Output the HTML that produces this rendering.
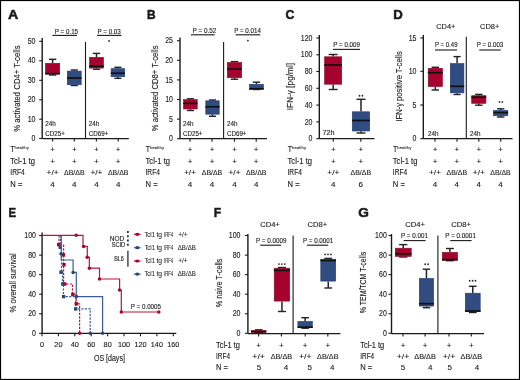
<!DOCTYPE html>
<html><head><meta charset="utf-8"><style>
html,body{margin:0;padding:0;background:#fff;}
svg{display:block;font-family:"Liberation Sans",sans-serif;will-change:transform;}
text{stroke:#1a1a1a;stroke-width:0.12px;}
</style></head><body>
<svg width="520" height="380" viewBox="0 0 520 380">
<rect x="0" y="0" width="520" height="380" fill="#fff"/>
<text x="8.0" y="19.2" font-size="13.2" text-anchor="start" fill="#1a1a1a" font-weight="bold" textLength="10.3" lengthAdjust="spacingAndGlyphs" style="stroke:#1a1a1a;stroke-width:0.55px;stroke-linejoin:round">A</text>
<line x1="42.2" y1="38" x2="42.2" y2="138.5" stroke="#1a1a1a" stroke-width="1.4"/>
<line x1="39.2" y1="41.3" x2="42.2" y2="41.3" stroke="#1a1a1a" stroke-width="1.1"/>
<text x="35.5" y="43.9" font-size="8.4" text-anchor="end" fill="#1a1a1a" textLength="7.8" lengthAdjust="spacingAndGlyphs">50</text>
<line x1="39.2" y1="60.8" x2="42.2" y2="60.8" stroke="#1a1a1a" stroke-width="1.1"/>
<text x="35.5" y="63.4" font-size="8.4" text-anchor="end" fill="#1a1a1a" textLength="7.8" lengthAdjust="spacingAndGlyphs">40</text>
<line x1="39.2" y1="80.3" x2="42.2" y2="80.3" stroke="#1a1a1a" stroke-width="1.1"/>
<text x="35.5" y="82.89999999999999" font-size="8.4" text-anchor="end" fill="#1a1a1a" textLength="7.8" lengthAdjust="spacingAndGlyphs">30</text>
<line x1="39.2" y1="99.8" x2="42.2" y2="99.8" stroke="#1a1a1a" stroke-width="1.1"/>
<text x="35.5" y="102.39999999999999" font-size="8.4" text-anchor="end" fill="#1a1a1a" textLength="7.8" lengthAdjust="spacingAndGlyphs">20</text>
<line x1="39.2" y1="119.2" x2="42.2" y2="119.2" stroke="#1a1a1a" stroke-width="1.1"/>
<text x="35.5" y="121.8" font-size="8.4" text-anchor="end" fill="#1a1a1a" textLength="7.8" lengthAdjust="spacingAndGlyphs">10</text>
<line x1="39.2" y1="138.5" x2="42.2" y2="138.5" stroke="#1a1a1a" stroke-width="1.1"/>
<text x="35.5" y="141.1" font-size="8.4" text-anchor="end" fill="#1a1a1a" textLength="3.9" lengthAdjust="spacingAndGlyphs">0</text>
<line x1="42.2" y1="138.6" x2="128.8" y2="138.6" stroke="#1a1a1a" stroke-width="1.3"/>
<line x1="52.6" y1="138.6" x2="52.6" y2="141.6" stroke="#1a1a1a" stroke-width="1.1"/>
<line x1="74.3" y1="138.6" x2="74.3" y2="141.6" stroke="#1a1a1a" stroke-width="1.1"/>
<line x1="96.4" y1="138.6" x2="96.4" y2="141.6" stroke="#1a1a1a" stroke-width="1.1"/>
<line x1="118.2" y1="138.6" x2="118.2" y2="141.6" stroke="#1a1a1a" stroke-width="1.1"/>
<line x1="85.5" y1="42" x2="85.5" y2="138.5" stroke="#1a1a1a" stroke-width="1.1"/>
<text x="54.8" y="33.5" font-size="6.9" text-anchor="start" fill="#1a1a1a" textLength="23.299999999999997" lengthAdjust="spacingAndGlyphs">P = 0.15</text>
<line x1="52.3" y1="35.4" x2="76.9" y2="35.4" stroke="#1a1a1a" stroke-width="1.1"/>
<text x="97.5" y="33.6" font-size="6.9" text-anchor="start" fill="#1a1a1a" textLength="23.299999999999997" lengthAdjust="spacingAndGlyphs">P = 0.03</text>
<line x1="97" y1="35.4" x2="121.5" y2="35.4" stroke="#1a1a1a" stroke-width="1.1"/>
<ellipse cx="109.00" cy="41" rx="0.85" ry="0.95" fill="#222"/>
<line x1="52.6" y1="59.3" x2="52.6" y2="63" stroke="#222" stroke-width="1.5"/>
<line x1="52.6" y1="74.2" x2="52.6" y2="75" stroke="#222" stroke-width="1.5"/>
<line x1="48.900000000000006" y1="59.3" x2="56.3" y2="59.3" stroke="#222" stroke-width="1.4"/>
<line x1="48.900000000000006" y1="75" x2="56.3" y2="75" stroke="#222" stroke-width="1.4"/>
<rect x="45.5" y="63.3" width="14.199999999999998" height="10.600000000000003" fill="#a5032e" stroke="#8a0626" stroke-width="0.6"/>
<line x1="45.2" y1="73.7" x2="60" y2="73.7" stroke="#111" stroke-width="1.7"/>
<line x1="74.25" y1="70" x2="74.25" y2="70.8" stroke="#222" stroke-width="1.5"/>
<line x1="74.25" y1="85" x2="74.25" y2="85.5" stroke="#222" stroke-width="1.5"/>
<line x1="70.625" y1="70" x2="77.875" y2="70" stroke="#222" stroke-width="1.4"/>
<line x1="70.625" y1="85.5" x2="77.875" y2="85.5" stroke="#222" stroke-width="1.4"/>
<rect x="67.3" y="71.1" width="13.9" height="13.600000000000003" fill="#304c80" stroke="#1f3b74" stroke-width="0.6"/>
<line x1="67" y1="78" x2="81.5" y2="78" stroke="#111" stroke-width="1.7"/>
<line x1="96.5" y1="53.4" x2="96.5" y2="57" stroke="#222" stroke-width="1.5"/>
<line x1="96.5" y1="68.4" x2="96.5" y2="69.2" stroke="#222" stroke-width="1.5"/>
<line x1="92.85" y1="53.4" x2="100.15" y2="53.4" stroke="#222" stroke-width="1.4"/>
<line x1="92.85" y1="69.2" x2="100.15" y2="69.2" stroke="#222" stroke-width="1.4"/>
<rect x="89.5" y="57.3" width="13.999999999999995" height="10.800000000000006" fill="#a5032e" stroke="#8a0626" stroke-width="0.6"/>
<line x1="89.2" y1="66.2" x2="103.8" y2="66.2" stroke="#111" stroke-width="1.7"/>
<line x1="117.9" y1="67.3" x2="117.9" y2="68.4" stroke="#222" stroke-width="1.5"/>
<line x1="117.9" y1="77" x2="117.9" y2="78.3" stroke="#222" stroke-width="1.5"/>
<line x1="114.35000000000001" y1="67.3" x2="121.45" y2="67.3" stroke="#222" stroke-width="1.4"/>
<line x1="114.35000000000001" y1="78.3" x2="121.45" y2="78.3" stroke="#222" stroke-width="1.4"/>
<rect x="111.1" y="68.7" width="13.600000000000003" height="7.999999999999995" fill="#304c80" stroke="#1f3b74" stroke-width="0.6"/>
<line x1="110.8" y1="73.2" x2="125" y2="73.2" stroke="#111" stroke-width="1.7"/>
<text x="45.3" y="126.1" font-size="6.5" text-anchor="start" fill="#1a1a1a" textLength="10.5" lengthAdjust="spacingAndGlyphs">24h</text>
<text x="45.3" y="135.8" font-size="6.5" text-anchor="start" fill="#1a1a1a" textLength="19.5" lengthAdjust="spacingAndGlyphs">CD25+</text>
<text x="88.8" y="126.1" font-size="6.5" text-anchor="start" fill="#1a1a1a" textLength="10.5" lengthAdjust="spacingAndGlyphs">24h</text>
<text x="88.8" y="135.8" font-size="6.5" text-anchor="start" fill="#1a1a1a" textLength="19.5" lengthAdjust="spacingAndGlyphs">CD69+</text>
<text transform="translate(16.15,88.6) rotate(-90)" x="0" y="0" font-size="9.6" text-anchor="middle" dominant-baseline="central" fill="#1a1a1a" textLength="86.3" lengthAdjust="spacingAndGlyphs">% activated CD4+ T-cells</text>
<text x="10.600000000000001" y="152.20000000000002" font-size="8.6" text-anchor="start" fill="#1a1a1a" textLength="4.3" lengthAdjust="spacingAndGlyphs">T</text>
<text x="14.600000000000001" y="148.5" font-size="4.4" text-anchor="start" fill="#1a1a1a" textLength="14.4" lengthAdjust="spacingAndGlyphs" style="stroke-width:0.05px">healthy</text>
<text x="52.6" y="152.3" font-size="8" text-anchor="middle" fill="#1a1a1a">+</text>
<text x="74.3" y="152.3" font-size="8" text-anchor="middle" fill="#1a1a1a">+</text>
<text x="96.4" y="152.3" font-size="8" text-anchor="middle" fill="#1a1a1a">+</text>
<text x="118.2" y="152.3" font-size="8" text-anchor="middle" fill="#1a1a1a">+</text>
<text x="10.3" y="163.9" font-size="8.6" text-anchor="start" fill="#1a1a1a" textLength="24.6" lengthAdjust="spacingAndGlyphs">Tcl-1 tg</text>
<text x="10.3" y="175.3" font-size="8.6" text-anchor="start" fill="#1a1a1a" textLength="14.4" lengthAdjust="spacingAndGlyphs">IRF4</text>
<text x="10.3" y="186.5" font-size="8.6" text-anchor="start" fill="#1a1a1a" textLength="12.1" lengthAdjust="spacingAndGlyphs">N =</text>
<text x="52.6" y="163.8" font-size="8" text-anchor="middle" fill="#1a1a1a">+</text>
<text x="74.3" y="163.8" font-size="8" text-anchor="middle" fill="#1a1a1a">+</text>
<text x="96.4" y="163.8" font-size="8" text-anchor="middle" fill="#1a1a1a">+</text>
<text x="118.2" y="163.8" font-size="8" text-anchor="middle" fill="#1a1a1a">+</text>
<text x="52.6" y="175.3" font-size="8" text-anchor="middle" fill="#1a1a1a" textLength="12" lengthAdjust="spacingAndGlyphs">+/+</text>
<text x="74.3" y="175.3" font-size="8" text-anchor="middle" fill="#1a1a1a" textLength="20.5" lengthAdjust="spacingAndGlyphs">ΔB/ΔB</text>
<text x="96.4" y="175.3" font-size="8" text-anchor="middle" fill="#1a1a1a" textLength="12" lengthAdjust="spacingAndGlyphs">+/+</text>
<text x="118.2" y="175.3" font-size="8" text-anchor="middle" fill="#1a1a1a" textLength="20.5" lengthAdjust="spacingAndGlyphs">ΔB/ΔB</text>
<text x="52.6" y="186.5" font-size="8" text-anchor="middle" fill="#1a1a1a">4</text>
<text x="74.3" y="186.5" font-size="8" text-anchor="middle" fill="#1a1a1a">4</text>
<text x="96.4" y="186.5" font-size="8" text-anchor="middle" fill="#1a1a1a">4</text>
<text x="118.2" y="186.5" font-size="8" text-anchor="middle" fill="#1a1a1a">4</text>
<text x="147" y="19.2" font-size="13.2" text-anchor="start" fill="#1a1a1a" font-weight="bold" textLength="8.6" lengthAdjust="spacingAndGlyphs" style="stroke:#1a1a1a;stroke-width:0.55px;stroke-linejoin:round">B</text>
<line x1="180" y1="37.5" x2="180" y2="138.7" stroke="#1a1a1a" stroke-width="1.4"/>
<line x1="177" y1="40.7" x2="180" y2="40.7" stroke="#1a1a1a" stroke-width="1.1"/>
<text x="173" y="43.300000000000004" font-size="8.4" text-anchor="end" fill="#1a1a1a" textLength="7.8" lengthAdjust="spacingAndGlyphs">25</text>
<line x1="177" y1="60.3" x2="180" y2="60.3" stroke="#1a1a1a" stroke-width="1.1"/>
<text x="173" y="62.9" font-size="8.4" text-anchor="end" fill="#1a1a1a" textLength="7.8" lengthAdjust="spacingAndGlyphs">20</text>
<line x1="177" y1="79.9" x2="180" y2="79.9" stroke="#1a1a1a" stroke-width="1.1"/>
<text x="173" y="82.5" font-size="8.4" text-anchor="end" fill="#1a1a1a" textLength="7.8" lengthAdjust="spacingAndGlyphs">15</text>
<line x1="177" y1="99.5" x2="180" y2="99.5" stroke="#1a1a1a" stroke-width="1.1"/>
<text x="173" y="102.1" font-size="8.4" text-anchor="end" fill="#1a1a1a" textLength="7.8" lengthAdjust="spacingAndGlyphs">10</text>
<line x1="177" y1="119.1" x2="180" y2="119.1" stroke="#1a1a1a" stroke-width="1.1"/>
<text x="173" y="121.69999999999999" font-size="8.4" text-anchor="end" fill="#1a1a1a" textLength="3.9" lengthAdjust="spacingAndGlyphs">5</text>
<line x1="177" y1="138.7" x2="180" y2="138.7" stroke="#1a1a1a" stroke-width="1.1"/>
<text x="173" y="141.29999999999998" font-size="8.4" text-anchor="end" fill="#1a1a1a" textLength="3.9" lengthAdjust="spacingAndGlyphs">0</text>
<line x1="180" y1="138.7" x2="267" y2="138.7" stroke="#1a1a1a" stroke-width="1.3"/>
<line x1="190" y1="138.7" x2="190" y2="141.7" stroke="#1a1a1a" stroke-width="1.1"/>
<line x1="212" y1="138.7" x2="212" y2="141.7" stroke="#1a1a1a" stroke-width="1.1"/>
<line x1="234.5" y1="138.7" x2="234.5" y2="141.7" stroke="#1a1a1a" stroke-width="1.1"/>
<line x1="256.2" y1="138.7" x2="256.2" y2="141.7" stroke="#1a1a1a" stroke-width="1.1"/>
<line x1="223.6" y1="42" x2="223.6" y2="138.7" stroke="#1a1a1a" stroke-width="1.1"/>
<text x="192.5" y="33" font-size="6.9" text-anchor="start" fill="#1a1a1a" textLength="23.80000000000001" lengthAdjust="spacingAndGlyphs">P = 0.52</text>
<line x1="190.9" y1="34.8" x2="214.7" y2="34.8" stroke="#1a1a1a" stroke-width="1.1"/>
<text x="234.2" y="33" font-size="6.9" text-anchor="start" fill="#1a1a1a" textLength="26.69999999999999" lengthAdjust="spacingAndGlyphs">P = 0.014</text>
<line x1="235.6" y1="34.8" x2="260.2" y2="34.8" stroke="#1a1a1a" stroke-width="1.1"/>
<ellipse cx="247.90" cy="40.6" rx="0.85" ry="0.95" fill="#222"/>
<line x1="190.4" y1="98.8" x2="190.4" y2="99.3" stroke="#222" stroke-width="1.5"/>
<line x1="190.4" y1="109.3" x2="190.4" y2="110.5" stroke="#222" stroke-width="1.5"/>
<line x1="186.85000000000002" y1="98.8" x2="193.95" y2="98.8" stroke="#222" stroke-width="1.4"/>
<line x1="186.85000000000002" y1="110.5" x2="193.95" y2="110.5" stroke="#222" stroke-width="1.4"/>
<rect x="183.60000000000002" y="99.6" width="13.599999999999989" height="9.4" fill="#a5032e" stroke="#8a0626" stroke-width="0.6"/>
<line x1="183.3" y1="103.3" x2="197.5" y2="103.3" stroke="#111" stroke-width="1.7"/>
<line x1="212.5" y1="100" x2="212.5" y2="100.5" stroke="#222" stroke-width="1.5"/>
<line x1="212.5" y1="114.5" x2="212.5" y2="116.3" stroke="#222" stroke-width="1.5"/>
<line x1="209.0" y1="100" x2="216.0" y2="100" stroke="#222" stroke-width="1.4"/>
<line x1="209.0" y1="116.3" x2="216.0" y2="116.3" stroke="#222" stroke-width="1.4"/>
<rect x="205.8" y="100.8" width="13.4" height="13.4" fill="#304c80" stroke="#1f3b74" stroke-width="0.6"/>
<line x1="205.5" y1="106.8" x2="219.5" y2="106.8" stroke="#111" stroke-width="1.7"/>
<line x1="234.5" y1="61.6" x2="234.5" y2="62.2" stroke="#222" stroke-width="1.5"/>
<line x1="234.5" y1="78" x2="234.5" y2="79.2" stroke="#222" stroke-width="1.5"/>
<line x1="230.75" y1="61.6" x2="238.25" y2="61.6" stroke="#222" stroke-width="1.4"/>
<line x1="230.75" y1="79.2" x2="238.25" y2="79.2" stroke="#222" stroke-width="1.4"/>
<rect x="227.3" y="62.5" width="14.4" height="15.199999999999998" fill="#a5032e" stroke="#8a0626" stroke-width="0.6"/>
<line x1="227" y1="69.1" x2="242" y2="69.1" stroke="#111" stroke-width="1.7"/>
<line x1="256.45" y1="82.2" x2="256.45" y2="84" stroke="#222" stroke-width="1.5"/>
<line x1="256.45" y1="89.5" x2="256.45" y2="89.5" stroke="#222" stroke-width="1.5"/>
<line x1="252.825" y1="82.2" x2="260.075" y2="82.2" stroke="#222" stroke-width="1.4"/>
<line x1="252.825" y1="89.5" x2="260.075" y2="89.5" stroke="#222" stroke-width="1.4"/>
<rect x="249.5" y="84.3" width="13.9" height="4.9" fill="#304c80" stroke="#1f3b74" stroke-width="0.6"/>
<line x1="249.2" y1="88.8" x2="263.7" y2="88.8" stroke="#111" stroke-width="1.7"/>
<text x="183" y="126.1" font-size="6.5" text-anchor="start" fill="#1a1a1a" textLength="10.5" lengthAdjust="spacingAndGlyphs">24h</text>
<text x="183" y="135.8" font-size="6.5" text-anchor="start" fill="#1a1a1a" textLength="19.5" lengthAdjust="spacingAndGlyphs">CD25+</text>
<text x="227" y="126.1" font-size="6.5" text-anchor="start" fill="#1a1a1a" textLength="10.5" lengthAdjust="spacingAndGlyphs">24h</text>
<text x="227" y="135.8" font-size="6.5" text-anchor="start" fill="#1a1a1a" textLength="19.5" lengthAdjust="spacingAndGlyphs">CD69+</text>
<text transform="translate(154.45,88.4) rotate(-90)" x="0" y="0" font-size="9.6" text-anchor="middle" dominant-baseline="central" fill="#1a1a1a" textLength="85.8" lengthAdjust="spacingAndGlyphs">% activated CD8+ T-cells</text>
<text x="145.8" y="152.20000000000002" font-size="8.6" text-anchor="start" fill="#1a1a1a" textLength="4.3" lengthAdjust="spacingAndGlyphs">T</text>
<text x="149.8" y="148.5" font-size="4.4" text-anchor="start" fill="#1a1a1a" textLength="14.4" lengthAdjust="spacingAndGlyphs" style="stroke-width:0.05px">healthy</text>
<text x="190" y="152.3" font-size="8" text-anchor="middle" fill="#1a1a1a">+</text>
<text x="212" y="152.3" font-size="8" text-anchor="middle" fill="#1a1a1a">+</text>
<text x="234.5" y="152.3" font-size="8" text-anchor="middle" fill="#1a1a1a">+</text>
<text x="256.2" y="152.3" font-size="8" text-anchor="middle" fill="#1a1a1a">+</text>
<text x="145.5" y="163.9" font-size="8.6" text-anchor="start" fill="#1a1a1a" textLength="24.6" lengthAdjust="spacingAndGlyphs">Tcl-1 tg</text>
<text x="145.5" y="175.3" font-size="8.6" text-anchor="start" fill="#1a1a1a" textLength="14.4" lengthAdjust="spacingAndGlyphs">IRF4</text>
<text x="145.5" y="186.5" font-size="8.6" text-anchor="start" fill="#1a1a1a" textLength="12.1" lengthAdjust="spacingAndGlyphs">N =</text>
<text x="190" y="163.8" font-size="8" text-anchor="middle" fill="#1a1a1a">+</text>
<text x="212" y="163.8" font-size="8" text-anchor="middle" fill="#1a1a1a">+</text>
<text x="234.5" y="163.8" font-size="8" text-anchor="middle" fill="#1a1a1a">+</text>
<text x="256.2" y="163.8" font-size="8" text-anchor="middle" fill="#1a1a1a">+</text>
<text x="190" y="175.3" font-size="8" text-anchor="middle" fill="#1a1a1a" textLength="12" lengthAdjust="spacingAndGlyphs">+/+</text>
<text x="212" y="175.3" font-size="8" text-anchor="middle" fill="#1a1a1a" textLength="20.5" lengthAdjust="spacingAndGlyphs">ΔB/ΔB</text>
<text x="234.5" y="175.3" font-size="8" text-anchor="middle" fill="#1a1a1a" textLength="12" lengthAdjust="spacingAndGlyphs">+/+</text>
<text x="256.2" y="175.3" font-size="8" text-anchor="middle" fill="#1a1a1a" textLength="20.5" lengthAdjust="spacingAndGlyphs">ΔB/ΔB</text>
<text x="190" y="186.5" font-size="8" text-anchor="middle" fill="#1a1a1a">4</text>
<text x="212" y="186.5" font-size="8" text-anchor="middle" fill="#1a1a1a">4</text>
<text x="234.5" y="186.5" font-size="8" text-anchor="middle" fill="#1a1a1a">4</text>
<text x="256.2" y="186.5" font-size="8" text-anchor="middle" fill="#1a1a1a">4</text>
<text x="285.4" y="19.2" font-size="13.2" text-anchor="start" fill="#1a1a1a" font-weight="bold" textLength="8.9" lengthAdjust="spacingAndGlyphs" style="stroke:#1a1a1a;stroke-width:0.55px;stroke-linejoin:round">C</text>
<line x1="319.3" y1="35" x2="319.3" y2="138.7" stroke="#1a1a1a" stroke-width="1.4"/>
<line x1="316.3" y1="38" x2="319.3" y2="38" stroke="#1a1a1a" stroke-width="1.1"/>
<text x="312.5" y="40.6" font-size="8.4" text-anchor="end" fill="#1a1a1a" textLength="11.7" lengthAdjust="spacingAndGlyphs">120</text>
<line x1="316.3" y1="54.8" x2="319.3" y2="54.8" stroke="#1a1a1a" stroke-width="1.1"/>
<text x="312.5" y="57.4" font-size="8.4" text-anchor="end" fill="#1a1a1a" textLength="11.7" lengthAdjust="spacingAndGlyphs">100</text>
<line x1="316.3" y1="71.5" x2="319.3" y2="71.5" stroke="#1a1a1a" stroke-width="1.1"/>
<text x="312.5" y="74.1" font-size="8.4" text-anchor="end" fill="#1a1a1a" textLength="7.8" lengthAdjust="spacingAndGlyphs">80</text>
<line x1="316.3" y1="88.3" x2="319.3" y2="88.3" stroke="#1a1a1a" stroke-width="1.1"/>
<text x="312.5" y="90.89999999999999" font-size="8.4" text-anchor="end" fill="#1a1a1a" textLength="7.8" lengthAdjust="spacingAndGlyphs">60</text>
<line x1="316.3" y1="105.1" x2="319.3" y2="105.1" stroke="#1a1a1a" stroke-width="1.1"/>
<text x="312.5" y="107.69999999999999" font-size="8.4" text-anchor="end" fill="#1a1a1a" textLength="7.8" lengthAdjust="spacingAndGlyphs">40</text>
<line x1="316.3" y1="121.9" x2="319.3" y2="121.9" stroke="#1a1a1a" stroke-width="1.1"/>
<text x="312.5" y="124.5" font-size="8.4" text-anchor="end" fill="#1a1a1a" textLength="7.8" lengthAdjust="spacingAndGlyphs">20</text>
<line x1="316.3" y1="138.7" x2="319.3" y2="138.7" stroke="#1a1a1a" stroke-width="1.1"/>
<text x="312.5" y="141.29999999999998" font-size="8.4" text-anchor="end" fill="#1a1a1a" textLength="3.9" lengthAdjust="spacingAndGlyphs">0</text>
<line x1="319.3" y1="138.7" x2="374.5" y2="138.7" stroke="#1a1a1a" stroke-width="1.3"/>
<line x1="333.3" y1="138.7" x2="333.3" y2="141.7" stroke="#1a1a1a" stroke-width="1.1"/>
<line x1="360.8" y1="138.7" x2="360.8" y2="141.7" stroke="#1a1a1a" stroke-width="1.1"/>
<text x="333.3" y="46.6" font-size="6.9" text-anchor="start" fill="#1a1a1a" textLength="26.69999999999999" lengthAdjust="spacingAndGlyphs">P = 0.009</text>
<line x1="333" y1="49.4" x2="360" y2="49.4" stroke="#1a1a1a" stroke-width="1.1"/>
<line x1="333.15" y1="54.5" x2="333.15" y2="56.5" stroke="#222" stroke-width="1.5"/>
<line x1="333.15" y1="84.5" x2="333.15" y2="89.5" stroke="#222" stroke-width="1.5"/>
<line x1="328.72499999999997" y1="54.5" x2="337.575" y2="54.5" stroke="#222" stroke-width="1.4"/>
<line x1="328.72499999999997" y1="89.5" x2="337.575" y2="89.5" stroke="#222" stroke-width="1.4"/>
<rect x="324.6" y="56.8" width="17.099999999999987" height="27.4" fill="#a5032e" stroke="#8a0626" stroke-width="0.6"/>
<line x1="324.3" y1="65" x2="342" y2="65" stroke="#111" stroke-width="1.7"/>
<line x1="361.0" y1="99.3" x2="361.0" y2="111.5" stroke="#222" stroke-width="1.5"/>
<line x1="361.0" y1="131.3" x2="361.0" y2="133" stroke="#222" stroke-width="1.5"/>
<line x1="356.5" y1="99.3" x2="365.5" y2="99.3" stroke="#222" stroke-width="1.4"/>
<line x1="356.5" y1="133" x2="365.5" y2="133" stroke="#222" stroke-width="1.4"/>
<rect x="352.3" y="111.8" width="17.4" height="19.20000000000001" fill="#304c80" stroke="#1f3b74" stroke-width="0.6"/>
<line x1="352" y1="120.5" x2="370" y2="120.5" stroke="#111" stroke-width="1.7"/>
<ellipse cx="359.55" cy="95.8" rx="0.85" ry="0.95" fill="#222"/>
<ellipse cx="362.45" cy="95.8" rx="0.85" ry="0.95" fill="#222"/>
<text x="322.5" y="135" font-size="6.8" text-anchor="start" fill="#1a1a1a" textLength="12" lengthAdjust="spacingAndGlyphs">72h</text>
<text transform="translate(289.8,86.6) rotate(-90)" x="0" y="0" font-size="9.2" text-anchor="middle" dominant-baseline="central" fill="#1a1a1a" textLength="47.2" lengthAdjust="spacingAndGlyphs">IFN-γ [pg/ml]</text>
<text x="287.8" y="152.20000000000002" font-size="8.6" text-anchor="start" fill="#1a1a1a" textLength="4.3" lengthAdjust="spacingAndGlyphs">T</text>
<text x="291.8" y="148.5" font-size="4.4" text-anchor="start" fill="#1a1a1a" textLength="14.4" lengthAdjust="spacingAndGlyphs" style="stroke-width:0.05px">healthy</text>
<text x="333.3" y="152.3" font-size="8" text-anchor="middle" fill="#1a1a1a">+</text>
<text x="360.8" y="152.3" font-size="8" text-anchor="middle" fill="#1a1a1a">+</text>
<text x="287.5" y="163.9" font-size="8.6" text-anchor="start" fill="#1a1a1a" textLength="24.6" lengthAdjust="spacingAndGlyphs">Tcl-1 tg</text>
<text x="287.5" y="175.3" font-size="8.6" text-anchor="start" fill="#1a1a1a" textLength="14.4" lengthAdjust="spacingAndGlyphs">IRF4</text>
<text x="287.5" y="186.5" font-size="8.6" text-anchor="start" fill="#1a1a1a" textLength="12.1" lengthAdjust="spacingAndGlyphs">N =</text>
<text x="333.3" y="163.8" font-size="8" text-anchor="middle" fill="#1a1a1a">+</text>
<text x="360.8" y="163.8" font-size="8" text-anchor="middle" fill="#1a1a1a">+</text>
<text x="333.3" y="175.3" font-size="8" text-anchor="middle" fill="#1a1a1a" textLength="12" lengthAdjust="spacingAndGlyphs">+/+</text>
<text x="360.8" y="175.3" font-size="8" text-anchor="middle" fill="#1a1a1a" textLength="20.5" lengthAdjust="spacingAndGlyphs">ΔB/ΔB</text>
<text x="333.3" y="186.5" font-size="8" text-anchor="middle" fill="#1a1a1a">4</text>
<text x="360.8" y="186.5" font-size="8" text-anchor="middle" fill="#1a1a1a">6</text>
<text x="393.3" y="19.2" font-size="13.2" text-anchor="start" fill="#1a1a1a" font-weight="bold" style="stroke:#1a1a1a;stroke-width:0.55px;stroke-linejoin:round">D</text>
<text x="436.2" y="29.3" font-size="8.1" text-anchor="start" fill="#1a1a1a" textLength="19.3" lengthAdjust="spacingAndGlyphs">CD4+</text>
<text x="480" y="29.3" font-size="8.1" text-anchor="start" fill="#1a1a1a" textLength="19.3" lengthAdjust="spacingAndGlyphs">CD8+</text>
<line x1="423.3" y1="35" x2="423.3" y2="138.7" stroke="#1a1a1a" stroke-width="1.4"/>
<line x1="420.3" y1="38" x2="423.3" y2="38" stroke="#1a1a1a" stroke-width="1.1"/>
<text x="416.5" y="40.6" font-size="8.4" text-anchor="end" fill="#1a1a1a" textLength="7.8" lengthAdjust="spacingAndGlyphs">15</text>
<line x1="420.3" y1="71.3" x2="423.3" y2="71.3" stroke="#1a1a1a" stroke-width="1.1"/>
<text x="416.5" y="73.89999999999999" font-size="8.4" text-anchor="end" fill="#1a1a1a" textLength="7.8" lengthAdjust="spacingAndGlyphs">10</text>
<line x1="420.3" y1="105" x2="423.3" y2="105" stroke="#1a1a1a" stroke-width="1.1"/>
<text x="416.5" y="107.6" font-size="8.4" text-anchor="end" fill="#1a1a1a" textLength="3.9" lengthAdjust="spacingAndGlyphs">5</text>
<line x1="420.3" y1="138.7" x2="423.3" y2="138.7" stroke="#1a1a1a" stroke-width="1.1"/>
<text x="416.5" y="141.29999999999998" font-size="8.4" text-anchor="end" fill="#1a1a1a" textLength="3.9" lengthAdjust="spacingAndGlyphs">0</text>
<line x1="423.3" y1="138.7" x2="512.5" y2="138.7" stroke="#1a1a1a" stroke-width="1.3"/>
<line x1="435" y1="138.7" x2="435" y2="141.7" stroke="#1a1a1a" stroke-width="1.1"/>
<line x1="457" y1="138.7" x2="457" y2="141.7" stroke="#1a1a1a" stroke-width="1.1"/>
<line x1="478.8" y1="138.7" x2="478.8" y2="141.7" stroke="#1a1a1a" stroke-width="1.1"/>
<line x1="500.7" y1="138.7" x2="500.7" y2="141.7" stroke="#1a1a1a" stroke-width="1.1"/>
<line x1="466.3" y1="36.8" x2="466.3" y2="138.7" stroke="#1a1a1a" stroke-width="1.1"/>
<text x="435" y="46.8" font-size="6.9" text-anchor="start" fill="#1a1a1a" textLength="22.5" lengthAdjust="spacingAndGlyphs">P = 0.49</text>
<line x1="435" y1="50" x2="457" y2="50" stroke="#1a1a1a" stroke-width="1.1"/>
<text x="476.8" y="46.8" font-size="6.9" text-anchor="start" fill="#1a1a1a" textLength="26.5" lengthAdjust="spacingAndGlyphs">P = 0.003</text>
<line x1="479.3" y1="50" x2="500.8" y2="50" stroke="#1a1a1a" stroke-width="1.1"/>
<line x1="435.29999999999995" y1="67.3" x2="435.29999999999995" y2="68" stroke="#222" stroke-width="1.5"/>
<line x1="435.29999999999995" y1="86.9" x2="435.29999999999995" y2="90" stroke="#222" stroke-width="1.5"/>
<line x1="431.59999999999997" y1="67.3" x2="438.99999999999994" y2="67.3" stroke="#222" stroke-width="1.4"/>
<line x1="431.59999999999997" y1="90" x2="438.99999999999994" y2="90" stroke="#222" stroke-width="1.4"/>
<rect x="428.2" y="68.3" width="14.200000000000012" height="18.300000000000004" fill="#a5032e" stroke="#8a0626" stroke-width="0.6"/>
<line x1="427.9" y1="72.7" x2="442.7" y2="72.7" stroke="#111" stroke-width="1.7"/>
<line x1="457.1" y1="56.6" x2="457.1" y2="63.2" stroke="#222" stroke-width="1.5"/>
<line x1="457.1" y1="93.2" x2="457.1" y2="94.5" stroke="#222" stroke-width="1.5"/>
<line x1="453.55" y1="56.6" x2="460.65000000000003" y2="56.6" stroke="#222" stroke-width="1.4"/>
<line x1="453.55" y1="94.5" x2="460.65000000000003" y2="94.5" stroke="#222" stroke-width="1.4"/>
<rect x="450.3" y="63.5" width="13.599999999999989" height="29.4" fill="#304c80" stroke="#1f3b74" stroke-width="0.6"/>
<line x1="450" y1="86.3" x2="464.2" y2="86.3" stroke="#111" stroke-width="1.7"/>
<line x1="478.79999999999995" y1="94.4" x2="478.79999999999995" y2="95.4" stroke="#222" stroke-width="1.5"/>
<line x1="478.79999999999995" y1="103.6" x2="478.79999999999995" y2="105.2" stroke="#222" stroke-width="1.5"/>
<line x1="475.09999999999997" y1="94.4" x2="482.49999999999994" y2="94.4" stroke="#222" stroke-width="1.4"/>
<line x1="475.09999999999997" y1="105.2" x2="482.49999999999994" y2="105.2" stroke="#222" stroke-width="1.4"/>
<rect x="471.7" y="95.7" width="14.200000000000012" height="7.599999999999989" fill="#a5032e" stroke="#8a0626" stroke-width="0.6"/>
<line x1="471.4" y1="97.2" x2="486.2" y2="97.2" stroke="#111" stroke-width="1.7"/>
<line x1="500.70000000000005" y1="108.8" x2="500.70000000000005" y2="110.1" stroke="#222" stroke-width="1.5"/>
<line x1="500.70000000000005" y1="116.1" x2="500.70000000000005" y2="117" stroke="#222" stroke-width="1.5"/>
<line x1="497.00000000000006" y1="108.8" x2="504.40000000000003" y2="108.8" stroke="#222" stroke-width="1.4"/>
<line x1="497.00000000000006" y1="117" x2="504.40000000000003" y2="117" stroke="#222" stroke-width="1.4"/>
<rect x="493.6" y="110.39999999999999" width="14.200000000000012" height="5.4" fill="#304c80" stroke="#1f3b74" stroke-width="0.6"/>
<line x1="493.3" y1="112.6" x2="508.1" y2="112.6" stroke="#111" stroke-width="1.7"/>
<ellipse cx="499.45" cy="101.9" rx="0.85" ry="0.95" fill="#222"/>
<ellipse cx="502.35" cy="101.9" rx="0.85" ry="0.95" fill="#222"/>
<text x="428" y="135.6" font-size="6.5" text-anchor="start" fill="#1a1a1a" textLength="10.5" lengthAdjust="spacingAndGlyphs">24h</text>
<text x="470" y="135.6" font-size="6.5" text-anchor="start" fill="#1a1a1a" textLength="10.5" lengthAdjust="spacingAndGlyphs">24h</text>
<text transform="translate(398.8,86.4) rotate(-90)" x="0" y="0" font-size="9.6" text-anchor="middle" dominant-baseline="central" fill="#1a1a1a" textLength="70.4" lengthAdjust="spacingAndGlyphs">IFN-γ positive T-cells</text>
<text x="393.1" y="152.20000000000002" font-size="8.6" text-anchor="start" fill="#1a1a1a" textLength="4.3" lengthAdjust="spacingAndGlyphs">T</text>
<text x="397.1" y="148.5" font-size="4.4" text-anchor="start" fill="#1a1a1a" textLength="14.4" lengthAdjust="spacingAndGlyphs" style="stroke-width:0.05px">healthy</text>
<text x="435" y="152.3" font-size="8" text-anchor="middle" fill="#1a1a1a">+</text>
<text x="456.8" y="152.3" font-size="8" text-anchor="middle" fill="#1a1a1a">+</text>
<text x="478.8" y="152.3" font-size="8" text-anchor="middle" fill="#1a1a1a">+</text>
<text x="500.5" y="152.3" font-size="8" text-anchor="middle" fill="#1a1a1a">+</text>
<text x="392.8" y="163.9" font-size="8.6" text-anchor="start" fill="#1a1a1a" textLength="24.6" lengthAdjust="spacingAndGlyphs">Tcl-1 tg</text>
<text x="392.8" y="175.3" font-size="8.6" text-anchor="start" fill="#1a1a1a" textLength="14.4" lengthAdjust="spacingAndGlyphs">IRF4</text>
<text x="392.8" y="186.5" font-size="8.6" text-anchor="start" fill="#1a1a1a" textLength="12.1" lengthAdjust="spacingAndGlyphs">N =</text>
<text x="435" y="163.8" font-size="8" text-anchor="middle" fill="#1a1a1a">+</text>
<text x="456.8" y="163.8" font-size="8" text-anchor="middle" fill="#1a1a1a">+</text>
<text x="478.8" y="163.8" font-size="8" text-anchor="middle" fill="#1a1a1a">+</text>
<text x="500.5" y="163.8" font-size="8" text-anchor="middle" fill="#1a1a1a">+</text>
<text x="435" y="175.3" font-size="8" text-anchor="middle" fill="#1a1a1a" textLength="12" lengthAdjust="spacingAndGlyphs">+/+</text>
<text x="456.8" y="175.3" font-size="8" text-anchor="middle" fill="#1a1a1a" textLength="20.5" lengthAdjust="spacingAndGlyphs">ΔB/ΔB</text>
<text x="478.8" y="175.3" font-size="8" text-anchor="middle" fill="#1a1a1a" textLength="12" lengthAdjust="spacingAndGlyphs">+/+</text>
<text x="500.5" y="175.3" font-size="8" text-anchor="middle" fill="#1a1a1a" textLength="20.5" lengthAdjust="spacingAndGlyphs">ΔB/ΔB</text>
<text x="435" y="186.5" font-size="8" text-anchor="middle" fill="#1a1a1a">4</text>
<text x="456.8" y="186.5" font-size="8" text-anchor="middle" fill="#1a1a1a">4</text>
<text x="478.8" y="186.5" font-size="8" text-anchor="middle" fill="#1a1a1a">4</text>
<text x="500.5" y="186.5" font-size="8" text-anchor="middle" fill="#1a1a1a">4</text>
<text x="8.6" y="217.3" font-size="13.6" text-anchor="start" fill="#1a1a1a" font-weight="bold" textLength="7.6" lengthAdjust="spacingAndGlyphs" style="stroke:#1a1a1a;stroke-width:0.55px;stroke-linejoin:round">E</text>
<line x1="42.1" y1="232.5" x2="42.1" y2="333.3" stroke="#1a1a1a" stroke-width="1.4"/>
<line x1="39.1" y1="235.55" x2="42.1" y2="235.55" stroke="#1a1a1a" stroke-width="1.1"/>
<text x="36" y="238.15" font-size="8.4" text-anchor="end" fill="#1a1a1a" textLength="11.7" lengthAdjust="spacingAndGlyphs">100</text>
<line x1="39.1" y1="255.10000000000002" x2="42.1" y2="255.10000000000002" stroke="#1a1a1a" stroke-width="1.1"/>
<text x="36" y="257.70000000000005" font-size="8.4" text-anchor="end" fill="#1a1a1a" textLength="7.8" lengthAdjust="spacingAndGlyphs">80</text>
<line x1="39.1" y1="274.65" x2="42.1" y2="274.65" stroke="#1a1a1a" stroke-width="1.1"/>
<text x="36" y="277.25" font-size="8.4" text-anchor="end" fill="#1a1a1a" textLength="7.8" lengthAdjust="spacingAndGlyphs">60</text>
<line x1="39.1" y1="294.2" x2="42.1" y2="294.2" stroke="#1a1a1a" stroke-width="1.1"/>
<text x="36" y="296.8" font-size="8.4" text-anchor="end" fill="#1a1a1a" textLength="7.8" lengthAdjust="spacingAndGlyphs">40</text>
<line x1="39.1" y1="313.75" x2="42.1" y2="313.75" stroke="#1a1a1a" stroke-width="1.1"/>
<text x="36" y="316.35" font-size="8.4" text-anchor="end" fill="#1a1a1a" textLength="7.8" lengthAdjust="spacingAndGlyphs">20</text>
<line x1="39.1" y1="333.3" x2="42.1" y2="333.3" stroke="#1a1a1a" stroke-width="1.1"/>
<text x="36" y="335.90000000000003" font-size="8.4" text-anchor="end" fill="#1a1a1a" textLength="3.9" lengthAdjust="spacingAndGlyphs">0</text>
<line x1="42.1" y1="333.3" x2="176.3" y2="333.3" stroke="#1a1a1a" stroke-width="1.3"/>
<line x1="42.0" y1="333.3" x2="42.0" y2="336.3" stroke="#1a1a1a" stroke-width="1.1"/>
<line x1="58.412" y1="333.3" x2="58.412" y2="336.3" stroke="#1a1a1a" stroke-width="1.1"/>
<line x1="74.824" y1="333.3" x2="74.824" y2="336.3" stroke="#1a1a1a" stroke-width="1.1"/>
<line x1="91.23599999999999" y1="333.3" x2="91.23599999999999" y2="336.3" stroke="#1a1a1a" stroke-width="1.1"/>
<line x1="107.648" y1="333.3" x2="107.648" y2="336.3" stroke="#1a1a1a" stroke-width="1.1"/>
<line x1="124.06" y1="333.3" x2="124.06" y2="336.3" stroke="#1a1a1a" stroke-width="1.1"/>
<line x1="140.47199999999998" y1="333.3" x2="140.47199999999998" y2="336.3" stroke="#1a1a1a" stroke-width="1.1"/>
<line x1="156.88400000000001" y1="333.3" x2="156.88400000000001" y2="336.3" stroke="#1a1a1a" stroke-width="1.1"/>
<line x1="173.296" y1="333.3" x2="173.296" y2="336.3" stroke="#1a1a1a" stroke-width="1.1"/>
<text x="42.0" y="347.2" font-size="7.3" text-anchor="middle" fill="#1a1a1a">0</text>
<text x="58.412" y="347.2" font-size="7.3" text-anchor="middle" fill="#1a1a1a">20</text>
<text x="74.824" y="347.2" font-size="7.3" text-anchor="middle" fill="#1a1a1a">40</text>
<text x="91.23599999999999" y="347.2" font-size="7.3" text-anchor="middle" fill="#1a1a1a">60</text>
<text x="107.648" y="347.2" font-size="7.3" text-anchor="middle" fill="#1a1a1a">80</text>
<text x="124.06" y="347.2" font-size="7.3" text-anchor="middle" fill="#1a1a1a">100</text>
<text x="140.47199999999998" y="347.2" font-size="7.3" text-anchor="middle" fill="#1a1a1a">120</text>
<text x="156.88400000000001" y="347.2" font-size="7.3" text-anchor="middle" fill="#1a1a1a">140</text>
<text x="173.296" y="347.2" font-size="7.3" text-anchor="middle" fill="#1a1a1a">160</text>
<text x="109.4" y="360.6" font-size="9" text-anchor="middle" fill="#1a1a1a" textLength="31" lengthAdjust="spacingAndGlyphs">OS [days]</text>
<text transform="translate(12.9,282.8) rotate(-90)" x="0" y="0" font-size="9.6" text-anchor="middle" dominant-baseline="central" fill="#1a1a1a" textLength="59.2" lengthAdjust="spacingAndGlyphs">% overall survival</text>
<path d="M60.5,235.3 L60.5,247.3 L61.5,247.3 L61.5,272.2 L62.5,272.2 L62.5,284.0 L63.4,284.0 L63.4,296.6 L75.7,296.6 L75.7,308.9 L90.2,308.9 L90.2,333.3" fill="none" stroke="#3a5c98" stroke-width="1.2" stroke-dasharray="2.2,1.3"/>
<rect x="58.599999999999994" y="245.60000000000002" width="3.4" height="3.4" fill="#274680"/>
<rect x="59.3" y="270.5" width="3.4" height="3.4" fill="#274680"/>
<rect x="61.099999999999994" y="282.3" width="3.4" height="3.4" fill="#274680"/>
<rect x="61.9" y="294.90000000000003" width="3.4" height="3.4" fill="#274680"/>
<rect x="74.0" y="307.2" width="3.4" height="3.4" fill="#274680"/>
<circle cx="90.2" cy="333.3" r="1.75" fill="#274680"/>
<path d="M59.0,235.3 L59.0,245.0 L63.6,245.0 L63.6,284.0 L72.5,284.0 L72.5,294.4 L76.3,294.4 L76.3,303.8 L79.6,303.8 L79.6,333.3" fill="none" stroke="#b8163c" stroke-width="1.2" stroke-dasharray="2.2,1.3"/>
<rect x="57.0" y="242.9" width="3.4" height="3.4" fill="#a3082f"/>
<rect x="61.699999999999996" y="253.20000000000002" width="3.4" height="3.4" fill="#a3082f"/>
<rect x="62.3" y="263.0" width="3.4" height="3.4" fill="#a3082f"/>
<rect x="63.099999999999994" y="282.3" width="3.4" height="3.4" fill="#a3082f"/>
<rect x="71.1" y="292.7" width="3.4" height="3.4" fill="#a3082f"/>
<rect x="74.6" y="302.1" width="3.4" height="3.4" fill="#a3082f"/>
<circle cx="79.6" cy="333.3" r="1.75" fill="#a3082f"/>
<path d="M61.3,235.3 L61.3,260.0 L73.1,260.0 L73.1,272.4 L76.3,272.4 L76.3,296.6 L102.6,296.6 L102.6,333.3" fill="none" stroke="#3a5c98" stroke-width="1.2"/>
<circle cx="61" cy="253.7" r="1.75" fill="#274680"/>
<circle cx="73.1" cy="272.4" r="1.75" fill="#274680"/>
<circle cx="76.5" cy="296.6" r="1.75" fill="#274680"/>
<circle cx="102.6" cy="333.3" r="1.75" fill="#274680"/>
<path d="M42.0,235.3 L83.0,235.3 L83.0,246.4 L87.3,246.4 L87.3,257.3 L89.3,257.3 L89.3,268.2 L99.5,268.2 L99.5,279.0 L119.6,279.0 L119.6,290.1 L121.3,290.1 L121.3,312.0 L158.8,312.0" fill="none" stroke="#b8163c" stroke-width="1.2"/>
<circle cx="76.2" cy="235.3" r="1.75" fill="#a3082f"/>
<circle cx="83.6" cy="246.4" r="1.75" fill="#a3082f"/>
<circle cx="87.2" cy="257.2" r="1.75" fill="#a3082f"/>
<circle cx="89.4" cy="268.2" r="1.75" fill="#a3082f"/>
<circle cx="99.5" cy="279" r="1.75" fill="#a3082f"/>
<circle cx="119.5" cy="290.1" r="1.75" fill="#a3082f"/>
<circle cx="121.3" cy="312" r="1.75" fill="#a3082f"/>
<circle cx="158.8" cy="312" r="1.75" fill="#a3082f"/>
<text x="130.8" y="309.3" font-size="6.6" text-anchor="start" fill="#1a1a1a" textLength="30.2" lengthAdjust="spacingAndGlyphs">P = 0.0005</text>
<text x="124.2" y="240.9" font-size="6.3" text-anchor="end" fill="#1a1a1a" textLength="14.4" lengthAdjust="spacingAndGlyphs">NOD</text>
<text x="125.2" y="246.6" font-size="6.3" text-anchor="end" fill="#1a1a1a" textLength="13.5" lengthAdjust="spacingAndGlyphs">SCID</text>
<line x1="127.9" y1="230.9" x2="127.9" y2="245.8" stroke="#333" stroke-width="1.8" stroke-dasharray="2,2.27"/>
<text x="123.8" y="261.1" font-size="6.3" text-anchor="end" fill="#1a1a1a" textLength="9.6" lengthAdjust="spacingAndGlyphs">BL6</text>
<line x1="127.9" y1="250.7" x2="127.9" y2="266.8" stroke="#555" stroke-width="1.6"/>
<line x1="133.8" y1="234.3" x2="140.7" y2="234.3" stroke="#b8163c" stroke-width="1.1"/>
<ellipse cx="137.3" cy="234.3" rx="2.1" ry="1.6" fill="#a3082f"/>
<text x="144.4" y="236.5" font-size="6.4" text-anchor="start" fill="#1a1a1a" textLength="10.6" lengthAdjust="spacingAndGlyphs" style="stroke-width:0.05px">Tcl1</text>
<text x="156.5" y="236.5" font-size="6.4" text-anchor="start" fill="#1a1a1a" textLength="5.6" lengthAdjust="spacingAndGlyphs" style="stroke-width:0.05px">tg</text>
<text x="164.0" y="236.5" font-size="6.4" text-anchor="start" fill="#1a1a1a" textLength="9.2" lengthAdjust="spacingAndGlyphs" style="stroke-width:0.05px">IRF4</text>
<text x="178.3" y="236.5" font-size="6.4" text-anchor="start" fill="#1a1a1a" textLength="9.3" lengthAdjust="spacingAndGlyphs" style="stroke-width:0.05px">+/+</text>
<line x1="133.8" y1="247.7" x2="140.7" y2="247.7" stroke="#3a5c98" stroke-width="1.1"/>
<ellipse cx="137.3" cy="247.7" rx="2.1" ry="1.6" fill="#274680"/>
<text x="144.4" y="249.89999999999998" font-size="6.4" text-anchor="start" fill="#1a1a1a" textLength="10.6" lengthAdjust="spacingAndGlyphs" style="stroke-width:0.05px">Tcl1</text>
<text x="156.5" y="249.89999999999998" font-size="6.4" text-anchor="start" fill="#1a1a1a" textLength="5.6" lengthAdjust="spacingAndGlyphs" style="stroke-width:0.05px">tg</text>
<text x="164.0" y="249.89999999999998" font-size="6.4" text-anchor="start" fill="#1a1a1a" textLength="9.2" lengthAdjust="spacingAndGlyphs" style="stroke-width:0.05px">IRF4</text>
<text x="177.8" y="249.89999999999998" font-size="6.4" text-anchor="start" fill="#1a1a1a" textLength="18" lengthAdjust="spacingAndGlyphs" style="stroke-width:0.05px">ΔB/ΔB</text>
<line x1="133.8" y1="261" x2="140.7" y2="261" stroke="#b8163c" stroke-width="1.1"/>
<ellipse cx="137.3" cy="261" rx="2.1" ry="1.6" fill="#a3082f"/>
<text x="144.4" y="263.2" font-size="6.4" text-anchor="start" fill="#1a1a1a" textLength="10.6" lengthAdjust="spacingAndGlyphs" style="stroke-width:0.05px">Tcl1</text>
<text x="156.5" y="263.2" font-size="6.4" text-anchor="start" fill="#1a1a1a" textLength="5.6" lengthAdjust="spacingAndGlyphs" style="stroke-width:0.05px">tg</text>
<text x="164.0" y="263.2" font-size="6.4" text-anchor="start" fill="#1a1a1a" textLength="9.2" lengthAdjust="spacingAndGlyphs" style="stroke-width:0.05px">IRF4</text>
<text x="178.3" y="263.2" font-size="6.4" text-anchor="start" fill="#1a1a1a" textLength="9.3" lengthAdjust="spacingAndGlyphs" style="stroke-width:0.05px">+/+</text>
<line x1="133.8" y1="274.1" x2="140.7" y2="274.1" stroke="#3a5c98" stroke-width="1.1"/>
<ellipse cx="137.3" cy="274.1" rx="2.1" ry="1.6" fill="#274680"/>
<text x="144.4" y="276.3" font-size="6.4" text-anchor="start" fill="#1a1a1a" textLength="10.6" lengthAdjust="spacingAndGlyphs" style="stroke-width:0.05px">Tcl1</text>
<text x="156.5" y="276.3" font-size="6.4" text-anchor="start" fill="#1a1a1a" textLength="5.6" lengthAdjust="spacingAndGlyphs" style="stroke-width:0.05px">tg</text>
<text x="164.0" y="276.3" font-size="6.4" text-anchor="start" fill="#1a1a1a" textLength="9.2" lengthAdjust="spacingAndGlyphs" style="stroke-width:0.05px">IRF4</text>
<text x="177.8" y="276.3" font-size="6.4" text-anchor="start" fill="#1a1a1a" textLength="18" lengthAdjust="spacingAndGlyphs" style="stroke-width:0.05px">ΔB/ΔB</text>
<text x="213.8" y="217.3" font-size="13.6" text-anchor="start" fill="#1a1a1a" font-weight="bold" textLength="7.4" lengthAdjust="spacingAndGlyphs" style="stroke:#1a1a1a;stroke-width:0.55px;stroke-linejoin:round">F</text>
<text x="260.2" y="226.6" font-size="8.1" text-anchor="start" fill="#1a1a1a" textLength="19.6" lengthAdjust="spacingAndGlyphs">CD4+</text>
<text x="307.5" y="226.6" font-size="8.1" text-anchor="start" fill="#1a1a1a" textLength="19.6" lengthAdjust="spacingAndGlyphs">CD8+</text>
<line x1="247.9" y1="234" x2="247.9" y2="333.6" stroke="#1a1a1a" stroke-width="1.4"/>
<line x1="244.9" y1="235.55" x2="247.9" y2="235.55" stroke="#1a1a1a" stroke-width="1.1"/>
<text x="240.5" y="238.15" font-size="8.4" text-anchor="end" fill="#1a1a1a" textLength="11.7" lengthAdjust="spacingAndGlyphs">100</text>
<line x1="244.9" y1="255.10000000000002" x2="247.9" y2="255.10000000000002" stroke="#1a1a1a" stroke-width="1.1"/>
<text x="240.5" y="257.70000000000005" font-size="8.4" text-anchor="end" fill="#1a1a1a" textLength="7.8" lengthAdjust="spacingAndGlyphs">80</text>
<line x1="244.9" y1="274.65" x2="247.9" y2="274.65" stroke="#1a1a1a" stroke-width="1.1"/>
<text x="240.5" y="277.25" font-size="8.4" text-anchor="end" fill="#1a1a1a" textLength="7.8" lengthAdjust="spacingAndGlyphs">60</text>
<line x1="244.9" y1="294.2" x2="247.9" y2="294.2" stroke="#1a1a1a" stroke-width="1.1"/>
<text x="240.5" y="296.8" font-size="8.4" text-anchor="end" fill="#1a1a1a" textLength="7.8" lengthAdjust="spacingAndGlyphs">40</text>
<line x1="244.9" y1="313.75" x2="247.9" y2="313.75" stroke="#1a1a1a" stroke-width="1.1"/>
<text x="240.5" y="316.35" font-size="8.4" text-anchor="end" fill="#1a1a1a" textLength="7.8" lengthAdjust="spacingAndGlyphs">20</text>
<line x1="244.9" y1="333.3" x2="247.9" y2="333.3" stroke="#1a1a1a" stroke-width="1.1"/>
<text x="240.5" y="335.90000000000003" font-size="8.4" text-anchor="end" fill="#1a1a1a" textLength="3.9" lengthAdjust="spacingAndGlyphs">0</text>
<line x1="247.9" y1="333.6" x2="340.4" y2="333.6" stroke="#1a1a1a" stroke-width="1.3"/>
<line x1="258.6" y1="333.6" x2="258.6" y2="336.6" stroke="#1a1a1a" stroke-width="1.1"/>
<line x1="281.4" y1="333.6" x2="281.4" y2="336.6" stroke="#1a1a1a" stroke-width="1.1"/>
<line x1="305.2" y1="333.6" x2="305.2" y2="336.6" stroke="#1a1a1a" stroke-width="1.1"/>
<line x1="327.8" y1="333.6" x2="327.8" y2="336.6" stroke="#1a1a1a" stroke-width="1.1"/>
<line x1="293.1" y1="235.4" x2="293.1" y2="333.6" stroke="#1a1a1a" stroke-width="1.1"/>
<text x="256" y="242.5" font-size="6.9" text-anchor="start" fill="#1a1a1a" textLength="30.5" lengthAdjust="spacingAndGlyphs">P = 0.0009</text>
<line x1="260.2" y1="245.2" x2="281.2" y2="245.2" stroke="#1a1a1a" stroke-width="1.1"/>
<text x="303" y="242.5" font-size="6.9" text-anchor="start" fill="#1a1a1a" textLength="30.19999999999999" lengthAdjust="spacingAndGlyphs">P = 0.0001</text>
<line x1="306.9" y1="245.2" x2="328.2" y2="245.2" stroke="#1a1a1a" stroke-width="1.1"/>
<line x1="258.7" y1="329.8" x2="258.7" y2="330.2" stroke="#222" stroke-width="1.5"/>
<line x1="258.7" y1="332.6" x2="258.7" y2="332.6" stroke="#222" stroke-width="1.5"/>
<line x1="254.89999999999998" y1="329.8" x2="262.5" y2="329.8" stroke="#222" stroke-width="1.4"/>
<line x1="254.89999999999998" y1="332.6" x2="262.5" y2="332.6" stroke="#222" stroke-width="1.4"/>
<rect x="251.4" y="330.5" width="14.600000000000017" height="1.800000000000034" fill="#a5032e" stroke="#8a0626" stroke-width="0.6"/>
<line x1="251.1" y1="331.6" x2="266.3" y2="331.6" stroke="#111" stroke-width="1.7"/>
<line x1="281.95" y1="267.5" x2="281.95" y2="267.9" stroke="#222" stroke-width="1.5"/>
<line x1="281.95" y1="301.4" x2="281.95" y2="311.5" stroke="#222" stroke-width="1.5"/>
<line x1="277.92499999999995" y1="267.5" x2="285.975" y2="267.5" stroke="#222" stroke-width="1.4"/>
<line x1="277.92499999999995" y1="311.5" x2="285.975" y2="311.5" stroke="#222" stroke-width="1.4"/>
<rect x="274.2" y="268.2" width="15.500000000000023" height="32.9" fill="#a5032e" stroke="#8a0626" stroke-width="0.6"/>
<line x1="273.9" y1="270.4" x2="290" y2="270.4" stroke="#111" stroke-width="1.7"/>
<line x1="305.15" y1="317.7" x2="305.15" y2="321.1" stroke="#222" stroke-width="1.5"/>
<line x1="305.15" y1="327.8" x2="305.15" y2="328.2" stroke="#222" stroke-width="1.5"/>
<line x1="301.375" y1="317.7" x2="308.92499999999995" y2="317.7" stroke="#222" stroke-width="1.4"/>
<line x1="301.375" y1="328.2" x2="308.92499999999995" y2="328.2" stroke="#222" stroke-width="1.4"/>
<rect x="297.90000000000003" y="321.40000000000003" width="14.499999999999966" height="6.099999999999989" fill="#304c80" stroke="#1f3b74" stroke-width="0.6"/>
<line x1="297.6" y1="327.2" x2="312.7" y2="327.2" stroke="#111" stroke-width="1.7"/>
<line x1="328.25" y1="258.4" x2="328.25" y2="258.9" stroke="#222" stroke-width="1.5"/>
<line x1="328.25" y1="281.4" x2="328.25" y2="288" stroke="#222" stroke-width="1.5"/>
<line x1="324.375" y1="258.4" x2="332.125" y2="258.4" stroke="#222" stroke-width="1.4"/>
<line x1="324.375" y1="288" x2="332.125" y2="288" stroke="#222" stroke-width="1.4"/>
<rect x="320.8" y="259.2" width="14.9" height="21.9" fill="#304c80" stroke="#1f3b74" stroke-width="0.6"/>
<line x1="320.5" y1="260.5" x2="336" y2="260.5" stroke="#111" stroke-width="1.7"/>
<ellipse cx="278.95" cy="264.1" rx="0.85" ry="0.95" fill="#222"/>
<ellipse cx="281.85" cy="264.1" rx="0.85" ry="0.95" fill="#222"/>
<ellipse cx="284.75" cy="264.1" rx="0.85" ry="0.95" fill="#222"/>
<ellipse cx="325.10" cy="254.4" rx="0.85" ry="0.95" fill="#222"/>
<ellipse cx="328.00" cy="254.4" rx="0.85" ry="0.95" fill="#222"/>
<ellipse cx="330.90" cy="254.4" rx="0.85" ry="0.95" fill="#222"/>
<text transform="translate(218.3,283) rotate(-90)" x="0" y="0" font-size="9.8" text-anchor="middle" dominant-baseline="central" fill="#1a1a1a" textLength="48.7" lengthAdjust="spacingAndGlyphs">% naive T-cells</text>
<text x="216" y="347.7" font-size="8.6" text-anchor="start" fill="#1a1a1a" textLength="24" lengthAdjust="spacingAndGlyphs">Tcl-1 tg</text>
<text x="216" y="359.29999999999995" font-size="8.6" text-anchor="start" fill="#1a1a1a" textLength="14" lengthAdjust="spacingAndGlyphs">IRF4</text>
<text x="216" y="370.2" font-size="8.6" text-anchor="start" fill="#1a1a1a" textLength="12" lengthAdjust="spacingAndGlyphs">N =</text>
<text x="258.6" y="347.6" font-size="8" text-anchor="middle" fill="#1a1a1a">+</text>
<text x="281.4" y="347.6" font-size="8" text-anchor="middle" fill="#1a1a1a">+</text>
<text x="305.2" y="347.6" font-size="8" text-anchor="middle" fill="#1a1a1a">+</text>
<text x="327.8" y="347.6" font-size="8" text-anchor="middle" fill="#1a1a1a">+</text>
<text x="258.6" y="359.29999999999995" font-size="8" text-anchor="middle" fill="#1a1a1a" textLength="12.5" lengthAdjust="spacingAndGlyphs">+/+</text>
<text x="281.4" y="359.29999999999995" font-size="8" text-anchor="middle" fill="#1a1a1a" textLength="21.5" lengthAdjust="spacingAndGlyphs">ΔB/ΔB</text>
<text x="305.2" y="359.29999999999995" font-size="8" text-anchor="middle" fill="#1a1a1a" textLength="12.5" lengthAdjust="spacingAndGlyphs">+/+</text>
<text x="327.8" y="359.29999999999995" font-size="8" text-anchor="middle" fill="#1a1a1a" textLength="21.5" lengthAdjust="spacingAndGlyphs">ΔB/ΔB</text>
<text x="259" y="370.2" font-size="8" text-anchor="middle" fill="#1a1a1a">5</text>
<text x="286" y="370.2" font-size="8" text-anchor="middle" fill="#1a1a1a">4</text>
<text x="309.7" y="370.2" font-size="8" text-anchor="middle" fill="#1a1a1a">5</text>
<text x="332.3" y="370.2" font-size="8" text-anchor="middle" fill="#1a1a1a">4</text>
<text x="358.3" y="217.4" font-size="13.6" text-anchor="start" fill="#1a1a1a" font-weight="bold" style="stroke:#1a1a1a;stroke-width:0.55px;stroke-linejoin:round">G</text>
<text x="405.2" y="226.6" font-size="8.1" text-anchor="start" fill="#1a1a1a" textLength="19.8" lengthAdjust="spacingAndGlyphs">CD4+</text>
<text x="451.2" y="226.6" font-size="8.1" text-anchor="start" fill="#1a1a1a" textLength="19.8" lengthAdjust="spacingAndGlyphs">CD8+</text>
<line x1="391.5" y1="234" x2="391.5" y2="333.6" stroke="#1a1a1a" stroke-width="1.4"/>
<line x1="388.5" y1="235.55" x2="391.5" y2="235.55" stroke="#1a1a1a" stroke-width="1.1"/>
<text x="386.8" y="238.15" font-size="8.4" text-anchor="end" fill="#1a1a1a" textLength="11.7" lengthAdjust="spacingAndGlyphs">100</text>
<line x1="388.5" y1="255.10000000000002" x2="391.5" y2="255.10000000000002" stroke="#1a1a1a" stroke-width="1.1"/>
<text x="386.8" y="257.70000000000005" font-size="8.4" text-anchor="end" fill="#1a1a1a" textLength="7.8" lengthAdjust="spacingAndGlyphs">80</text>
<line x1="388.5" y1="274.65" x2="391.5" y2="274.65" stroke="#1a1a1a" stroke-width="1.1"/>
<text x="386.8" y="277.25" font-size="8.4" text-anchor="end" fill="#1a1a1a" textLength="7.8" lengthAdjust="spacingAndGlyphs">60</text>
<line x1="388.5" y1="294.2" x2="391.5" y2="294.2" stroke="#1a1a1a" stroke-width="1.1"/>
<text x="386.8" y="296.8" font-size="8.4" text-anchor="end" fill="#1a1a1a" textLength="7.8" lengthAdjust="spacingAndGlyphs">40</text>
<line x1="388.5" y1="313.75" x2="391.5" y2="313.75" stroke="#1a1a1a" stroke-width="1.1"/>
<text x="386.8" y="316.35" font-size="8.4" text-anchor="end" fill="#1a1a1a" textLength="7.8" lengthAdjust="spacingAndGlyphs">20</text>
<line x1="388.5" y1="333.3" x2="391.5" y2="333.3" stroke="#1a1a1a" stroke-width="1.1"/>
<text x="386.8" y="335.90000000000003" font-size="8.4" text-anchor="end" fill="#1a1a1a" textLength="3.9" lengthAdjust="spacingAndGlyphs">0</text>
<line x1="391.5" y1="333.6" x2="484" y2="333.6" stroke="#1a1a1a" stroke-width="1.3"/>
<line x1="403" y1="333.6" x2="403" y2="336.6" stroke="#1a1a1a" stroke-width="1.1"/>
<line x1="425.1" y1="333.6" x2="425.1" y2="336.6" stroke="#1a1a1a" stroke-width="1.1"/>
<line x1="449" y1="333.6" x2="449" y2="336.6" stroke="#1a1a1a" stroke-width="1.1"/>
<line x1="471.3" y1="333.6" x2="471.3" y2="336.6" stroke="#1a1a1a" stroke-width="1.1"/>
<line x1="437.9" y1="235.4" x2="437.9" y2="333.6" stroke="#1a1a1a" stroke-width="1.1"/>
<text x="401" y="238" font-size="6.9" text-anchor="start" fill="#1a1a1a" textLength="26.899999999999977" lengthAdjust="spacingAndGlyphs">P = 0.001</text>
<line x1="403.6" y1="240.6" x2="425.6" y2="240.6" stroke="#1a1a1a" stroke-width="1.1"/>
<text x="445.3" y="238" font-size="6.9" text-anchor="start" fill="#1a1a1a" textLength="30.599999999999966" lengthAdjust="spacingAndGlyphs">P = 0.0001</text>
<line x1="450.2" y1="240.6" x2="471.6" y2="240.6" stroke="#1a1a1a" stroke-width="1.1"/>
<line x1="403.25" y1="244.6" x2="403.25" y2="247.9" stroke="#222" stroke-width="1.5"/>
<line x1="403.25" y1="256.7" x2="403.25" y2="257" stroke="#222" stroke-width="1.5"/>
<line x1="399.125" y1="244.6" x2="407.375" y2="244.6" stroke="#222" stroke-width="1.4"/>
<line x1="399.125" y1="257" x2="407.375" y2="257" stroke="#222" stroke-width="1.4"/>
<rect x="395.3" y="248.20000000000002" width="15.9" height="8.199999999999983" fill="#a5032e" stroke="#8a0626" stroke-width="0.6"/>
<line x1="395" y1="253.8" x2="411.5" y2="253.8" stroke="#111" stroke-width="1.7"/>
<line x1="426.45" y1="269.2" x2="426.45" y2="278.1" stroke="#222" stroke-width="1.5"/>
<line x1="426.45" y1="306.4" x2="426.45" y2="307.7" stroke="#222" stroke-width="1.5"/>
<line x1="422.725" y1="269.2" x2="430.17499999999995" y2="269.2" stroke="#222" stroke-width="1.4"/>
<line x1="422.725" y1="307.7" x2="430.17499999999995" y2="307.7" stroke="#222" stroke-width="1.4"/>
<rect x="419.3" y="278.40000000000003" width="14.299999999999978" height="27.699999999999953" fill="#304c80" stroke="#1f3b74" stroke-width="0.6"/>
<line x1="419" y1="303.7" x2="433.9" y2="303.7" stroke="#111" stroke-width="1.7"/>
<line x1="449.9" y1="248.5" x2="449.9" y2="252.1" stroke="#222" stroke-width="1.5"/>
<line x1="449.9" y1="260.4" x2="449.9" y2="260.7" stroke="#222" stroke-width="1.5"/>
<line x1="445.95" y1="248.5" x2="453.84999999999997" y2="248.5" stroke="#222" stroke-width="1.4"/>
<line x1="445.95" y1="260.7" x2="453.84999999999997" y2="260.7" stroke="#222" stroke-width="1.4"/>
<rect x="442.3" y="252.4" width="15.200000000000012" height="7.699999999999983" fill="#a5032e" stroke="#8a0626" stroke-width="0.6"/>
<line x1="442" y1="259.7" x2="457.8" y2="259.7" stroke="#111" stroke-width="1.7"/>
<line x1="472.75" y1="286.3" x2="472.75" y2="292.9" stroke="#222" stroke-width="1.5"/>
<line x1="472.75" y1="312" x2="472.75" y2="312.5" stroke="#222" stroke-width="1.5"/>
<line x1="468.875" y1="286.3" x2="476.625" y2="286.3" stroke="#222" stroke-width="1.4"/>
<line x1="468.875" y1="312.5" x2="476.625" y2="312.5" stroke="#222" stroke-width="1.4"/>
<rect x="465.3" y="293.2" width="14.9" height="18.50000000000002" fill="#304c80" stroke="#1f3b74" stroke-width="0.6"/>
<line x1="465" y1="311" x2="480.5" y2="311" stroke="#111" stroke-width="1.7"/>
<ellipse cx="425.15" cy="264.3" rx="0.85" ry="0.95" fill="#222"/>
<ellipse cx="428.05" cy="264.3" rx="0.85" ry="0.95" fill="#222"/>
<ellipse cx="469.70" cy="280.7" rx="0.85" ry="0.95" fill="#222"/>
<ellipse cx="472.60" cy="280.7" rx="0.85" ry="0.95" fill="#222"/>
<ellipse cx="475.50" cy="280.7" rx="0.85" ry="0.95" fill="#222"/>
<text transform="translate(362.15,282.5) rotate(-90)" x="0" y="0" font-size="9.6" text-anchor="middle" dominant-baseline="central" fill="#1a1a1a" textLength="61.4" lengthAdjust="spacingAndGlyphs">% TEM/TCM T-cells</text>
<text x="360.2" y="347.7" font-size="8.6" text-anchor="start" fill="#1a1a1a" textLength="24" lengthAdjust="spacingAndGlyphs">Tcl-1 tg</text>
<text x="360.2" y="359.29999999999995" font-size="8.6" text-anchor="start" fill="#1a1a1a" textLength="14" lengthAdjust="spacingAndGlyphs">IRF4</text>
<text x="360.2" y="370.2" font-size="8.6" text-anchor="start" fill="#1a1a1a" textLength="12" lengthAdjust="spacingAndGlyphs">N =</text>
<text x="403" y="347.6" font-size="8" text-anchor="middle" fill="#1a1a1a">+</text>
<text x="425.1" y="347.6" font-size="8" text-anchor="middle" fill="#1a1a1a">+</text>
<text x="449" y="347.6" font-size="8" text-anchor="middle" fill="#1a1a1a">+</text>
<text x="471.3" y="347.6" font-size="8" text-anchor="middle" fill="#1a1a1a">+</text>
<text x="403" y="359.29999999999995" font-size="8" text-anchor="middle" fill="#1a1a1a" textLength="12.5" lengthAdjust="spacingAndGlyphs">+/+</text>
<text x="425.1" y="359.29999999999995" font-size="8" text-anchor="middle" fill="#1a1a1a" textLength="21.5" lengthAdjust="spacingAndGlyphs">ΔB/ΔB</text>
<text x="449" y="359.29999999999995" font-size="8" text-anchor="middle" fill="#1a1a1a" textLength="12.5" lengthAdjust="spacingAndGlyphs">+/+</text>
<text x="471.3" y="359.29999999999995" font-size="8" text-anchor="middle" fill="#1a1a1a" textLength="21.5" lengthAdjust="spacingAndGlyphs">ΔB/ΔB</text>
<text x="403" y="370.2" font-size="8" text-anchor="middle" fill="#1a1a1a">5</text>
<text x="430.3" y="370.2" font-size="8" text-anchor="middle" fill="#1a1a1a">4</text>
<text x="449.8" y="370.2" font-size="8" text-anchor="middle" fill="#1a1a1a">5</text>
<text x="477" y="370.2" font-size="8" text-anchor="middle" fill="#1a1a1a">4</text>
<rect x="0.5" y="0.5" width="519" height="379" fill="none" stroke="#000" stroke-width="1.2"/>
</svg>
</body></html>
